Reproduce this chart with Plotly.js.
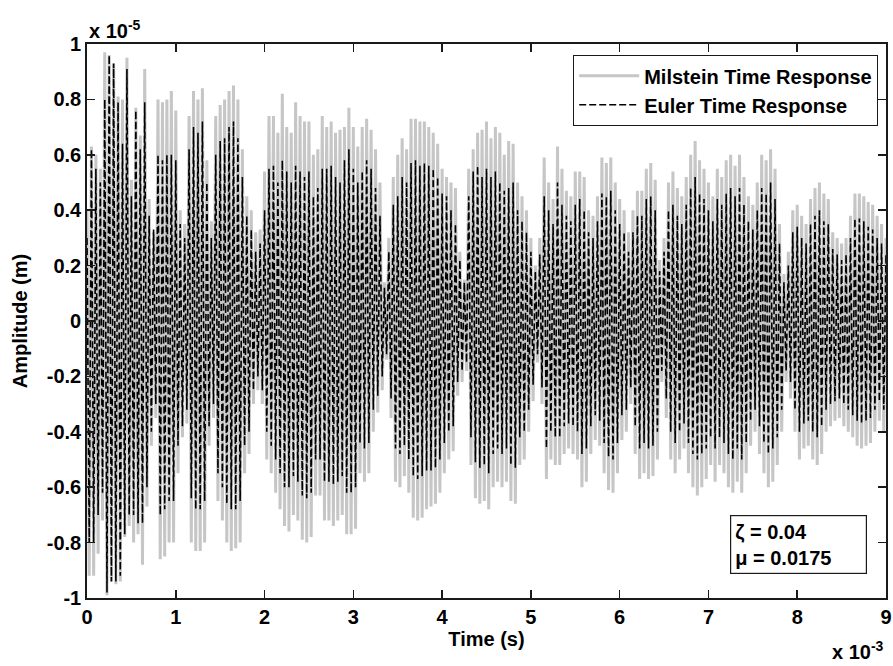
<!DOCTYPE html>
<html>
<head>
<meta charset="utf-8">
<script src="https://cdn.plot.ly/plotly-3.0.1.min.js"></script>
<style>
  html, body { margin: 0; padding: 0; background: #ffffff; }
  #chart { width: 893px; height: 666px; }
</style>
</head>
<body>
<div id="chart"></div>
<script>
// Time grid: one upper and one lower peak every 0.05 ms (x 10^-3 s); amplitudes in x 10^-5 m
const timeStepMs = 0.05;

// Milstein time response: upper peaks
const milsteinUpper = [
  0.40,0.63,0.60,0.55,0.97,0.96,0.93,0.81,0.80,0.95,
  0.51,0.77,0.67,0.91,0.44,0.32,0.80,0.79,0.80,0.83,
  0.76,0.40,0.35,0.74,0.83,0.80,0.84,0.58,0.36,0.74,
  0.78,0.80,0.83,0.85,0.80,0.62,0.45,0.40,0.32,0.33,
  0.54,0.74,0.74,0.68,0.82,0.70,0.68,0.79,0.74,0.72,
  0.72,0.60,0.62,0.74,0.70,0.72,0.68,0.69,0.70,0.77,
  0.70,0.63,0.70,0.73,0.69,0.62,0.50,0.14,0.30,0.52,
  0.60,0.66,0.62,0.73,0.73,0.72,0.72,0.70,0.68,0.64,
  0.55,0.52,0.50,0.48,0.25,0.15,0.55,0.62,0.68,0.69,
  0.72,0.66,0.70,0.68,0.60,0.65,0.64,0.50,0.45,0.40,
  0.30,0.20,0.30,0.59,0.50,0.44,0.63,0.55,0.47,0.45,
  0.54,0.54,0.52,0.40,0.38,0.45,0.59,0.57,0.59,0.50,
  0.44,0.40,0.32,0.40,0.47,0.47,0.55,0.57,0.51,0.22,
  0.30,0.50,0.54,0.48,0.45,0.52,0.60,0.65,0.58,0.55,
  0.50,0.45,0.55,0.52,0.58,0.60,0.56,0.60,0.52,0.45,
  0.42,0.50,0.60,0.58,0.62,0.55,0.35,0.17,0.25,0.40,
  0.42,0.38,0.35,0.44,0.48,0.50,0.46,0.44,0.32,0.30,
  0.28,0.30,0.38,0.46,0.46,0.45,0.43,0.42,0.38,0.35,
  0.30
];
// Milstein time response: lower peaks
const milsteinLower = [
  -0.92,-0.92,-0.84,-0.72,-0.99,-0.94,-0.95,-0.94,-0.78,-0.74,
  -0.80,-0.77,-0.88,-0.67,-0.45,-0.35,-0.86,-0.85,-0.80,-0.80,
  -0.55,-0.42,-0.37,-0.80,-0.83,-0.83,-0.80,-0.45,-0.35,-0.65,
  -0.72,-0.80,-0.83,-0.82,-0.80,-0.55,-0.48,-0.30,-0.25,-0.30,
  -0.50,-0.55,-0.62,-0.68,-0.74,-0.76,-0.70,-0.72,-0.79,-0.80,
  -0.78,-0.63,-0.63,-0.72,-0.72,-0.74,-0.72,-0.70,-0.77,-0.77,
  -0.75,-0.55,-0.58,-0.55,-0.40,-0.33,-0.25,-0.14,-0.35,-0.58,
  -0.60,-0.56,-0.62,-0.71,-0.72,-0.71,-0.68,-0.67,-0.66,-0.62,
  -0.55,-0.50,-0.47,-0.27,-0.22,-0.18,-0.52,-0.64,-0.66,-0.65,
  -0.68,-0.60,-0.58,-0.60,-0.58,-0.65,-0.66,-0.52,-0.50,-0.40,
  -0.29,-0.15,-0.30,-0.57,-0.50,-0.52,-0.52,-0.48,-0.46,-0.48,
  -0.50,-0.60,-0.58,-0.48,-0.43,-0.45,-0.55,-0.61,-0.62,-0.55,
  -0.43,-0.40,-0.30,-0.48,-0.57,-0.55,-0.57,-0.56,-0.50,-0.22,
  -0.35,-0.50,-0.55,-0.50,-0.46,-0.55,-0.60,-0.63,-0.60,-0.57,
  -0.52,-0.58,-0.52,-0.55,-0.60,-0.62,-0.58,-0.62,-0.55,-0.45,
  -0.40,-0.48,-0.55,-0.60,-0.58,-0.52,-0.40,-0.22,-0.28,-0.40,
  -0.50,-0.46,-0.45,-0.50,-0.52,-0.48,-0.40,-0.38,-0.36,-0.35,
  -0.38,-0.40,-0.42,-0.45,-0.46,-0.45,-0.44,-0.40,-0.36,-0.40,
  -0.42
];
// Euler time response: upper peaks
const eulerUpper = [
  0.30,0.62,0.55,0.50,0.80,0.96,0.93,0.79,0.64,0.91,
  0.45,0.76,0.62,0.79,0.38,0.33,0.60,0.58,0.60,0.60,
  0.58,0.35,0.30,0.62,0.70,0.68,0.72,0.50,0.30,0.60,
  0.65,0.66,0.70,0.72,0.66,0.52,0.38,0.33,0.25,0.28,
  0.40,0.55,0.56,0.50,0.58,0.54,0.50,0.56,0.54,0.52,
  0.54,0.45,0.48,0.55,0.55,0.56,0.52,0.50,0.58,0.62,
  0.55,0.50,0.54,0.58,0.55,0.48,0.38,0.12,0.25,0.42,
  0.45,0.52,0.50,0.57,0.58,0.56,0.57,0.56,0.55,0.52,
  0.46,0.45,0.40,0.35,0.22,0.14,0.45,0.54,0.56,0.52,
  0.55,0.52,0.54,0.50,0.47,0.48,0.50,0.40,0.36,0.32,
  0.25,0.18,0.24,0.45,0.40,0.35,0.50,0.42,0.38,0.36,
  0.42,0.44,0.40,0.32,0.30,0.36,0.46,0.45,0.47,0.40,
  0.35,0.32,0.25,0.32,0.38,0.38,0.44,0.45,0.40,0.18,
  0.25,0.40,0.42,0.38,0.35,0.42,0.48,0.52,0.46,0.44,
  0.40,0.36,0.44,0.42,0.46,0.48,0.45,0.48,0.42,0.36,
  0.33,0.40,0.48,0.46,0.50,0.44,0.28,0.14,0.20,0.32,
  0.34,0.30,0.28,0.35,0.38,0.40,0.36,0.35,0.26,0.24,
  0.22,0.24,0.30,0.37,0.37,0.36,0.34,0.33,0.30,0.28,
  0.24
];
// Euler time response: lower peaks
const eulerLower = [
  -0.80,-0.80,-0.70,-0.62,-0.98,-0.94,-0.94,-0.92,-0.77,-0.70,
  -0.70,-0.73,-0.73,-0.60,-0.40,-0.30,-0.70,-0.68,-0.65,-0.65,
  -0.45,-0.38,-0.32,-0.64,-0.68,-0.68,-0.65,-0.38,-0.30,-0.55,
  -0.60,-0.66,-0.68,-0.68,-0.65,-0.45,-0.40,-0.25,-0.20,-0.25,
  -0.40,-0.45,-0.50,-0.55,-0.60,-0.60,-0.56,-0.58,-0.63,-0.64,
  -0.62,-0.50,-0.50,-0.58,-0.58,-0.59,-0.58,-0.56,-0.62,-0.62,
  -0.60,-0.44,-0.46,-0.44,-0.32,-0.27,-0.20,-0.12,-0.28,-0.46,
  -0.48,-0.45,-0.50,-0.56,-0.57,-0.56,-0.54,-0.54,-0.53,-0.50,
  -0.44,-0.40,-0.38,-0.22,-0.18,-0.15,-0.42,-0.51,-0.53,-0.52,
  -0.55,-0.48,-0.46,-0.48,-0.46,-0.52,-0.53,-0.42,-0.40,-0.32,
  -0.23,-0.12,-0.24,-0.46,-0.40,-0.42,-0.42,-0.38,-0.37,-0.38,
  -0.40,-0.48,-0.46,-0.38,-0.34,-0.36,-0.44,-0.49,-0.50,-0.44,
  -0.34,-0.32,-0.24,-0.38,-0.46,-0.44,-0.46,-0.45,-0.40,-0.18,
  -0.28,-0.40,-0.44,-0.40,-0.37,-0.44,-0.48,-0.50,-0.48,-0.46,
  -0.42,-0.46,-0.42,-0.44,-0.48,-0.50,-0.46,-0.50,-0.44,-0.36,
  -0.32,-0.38,-0.44,-0.48,-0.46,-0.42,-0.32,-0.18,-0.22,-0.32,
  -0.40,-0.37,-0.36,-0.40,-0.42,-0.38,-0.32,-0.30,-0.29,-0.28,
  -0.30,-0.32,-0.34,-0.36,-0.37,-0.36,-0.35,-0.32,-0.29,-0.32,
  -0.34
];

const xTickVals = [0,1,2,3,4,5,6,7,8,9];
const xTickText = ['0','1','2','3','4','5','6','7','8','9'];
const yTickVals = [1,0.8,0.6,0.4,0.2,0,-0.2,-0.4,-0.6,-0.8,-1];
const yTickText = ['1','0.8','0.6','0.4','0.2','0','-0.2','-0.4','-0.6','-0.8','-1'];
const seriesNames = ['Milstein Time Response', 'Euler Time Response'];

function peaksToLine(upper, lower) {
  const x = [], y = [];
  for (let i = 0; i < upper.length; i++) {
    x.push(i * timeStepMs); y.push(upper[i]);
    x.push(i * timeStepMs + timeStepMs / 2); y.push(lower[i]);
  }
  return {x, y};
}

const mil = peaksToLine(milsteinUpper, milsteinLower);
const eul = peaksToLine(eulerUpper, eulerLower);

const FONT = 'Liberation Sans, Arial, Helvetica, sans-serif';

const traces = [
  {
    x: mil.x, y: mil.y, type: 'scatter', mode: 'lines', name: seriesNames[0],
    line: {color: '#c6c6c6', width: 3}, hoverinfo: 'skip'
  },
  {
    x: eul.x, y: eul.y, type: 'scatter', mode: 'lines', name: seriesNames[1],
    line: {color: '#000000', width: 1.6, dash: '7px,3px'}, hoverinfo: 'skip'
  }
];

const axisCommon = {
  showline: true, linecolor: '#1a1a1a', linewidth: 1.8, mirror: 'ticks',
  ticks: 'inside', ticklen: 8, tickwidth: 1.5, tickcolor: '#1a1a1a',
  showgrid: false, zeroline: false, fixedrange: true,
  tickfont: {family: FONT, size: 20, color: '#000', weight: 'bold'}
};

const layout = {
  width: 893, height: 666,
  margin: {l: 87, r: 7, t: 44, b: 68},
  paper_bgcolor: '#fff', plot_bgcolor: '#fff',
  font: {family: FONT, size: 20, color: '#000', weight: 'bold'},
  showlegend: true,
  legend: {
    x: 0.99, xanchor: 'right', y: 0.98, yanchor: 'top',
    bgcolor: '#fff', bordercolor: '#1a1a1a', borderwidth: 1.2,
    font: {family: FONT, size: 20, color: '#000', weight: 'bold'},
    itemwidth: 60, tracegroupgap: 0
  },
  xaxis: Object.assign({}, axisCommon, {
    range: [0, 9], tickvals: xTickVals, ticktext: xTickText,
    title: {text: 'Time (s)', standoff: 2, font: {family: FONT, size: 20, weight: 'bold'}}
  }),
  yaxis: Object.assign({}, axisCommon, {
    range: [-1, 1], tickvals: yTickVals, ticktext: yTickText,
    title: {text: 'Amplitude (m)', standoff: 14, font: {family: FONT, size: 20, weight: 'bold'}}
  }),
  annotations: [
    {
      xref: 'paper', yref: 'paper', x: 0, y: 1, xanchor: 'left', yanchor: 'bottom',
      text: 'x 10<sup>-5</sup>', showarrow: false, yshift: 0,
      font: {family: FONT, size: 20, weight: 'bold'}
    },
    {
      xref: 'paper', yref: 'paper', x: 1, y: -0.094, xanchor: 'right', yanchor: 'middle',
      text: 'x 10<sup>-3</sup>', showarrow: false,
      font: {family: FONT, size: 20, weight: 'bold'}
    },
    {
      xref: 'paper', yref: 'paper', x: 0.976, y: 0.043, xanchor: 'right', yanchor: 'bottom',
      text: 'ζ = 0.04<br>μ = 0.0175', showarrow: false, align: 'left',
      width: 127, height: 49, borderpad: 4,
      bordercolor: '#1a1a1a', borderwidth: 1.2, bgcolor: '#fff',
      font: {family: FONT, size: 20, weight: 'bold'}
    }
  ]
};

Plotly.newPlot('chart', traces, layout, {displayModeBar: false, staticPlot: true});
</script>
</body>
</html>
